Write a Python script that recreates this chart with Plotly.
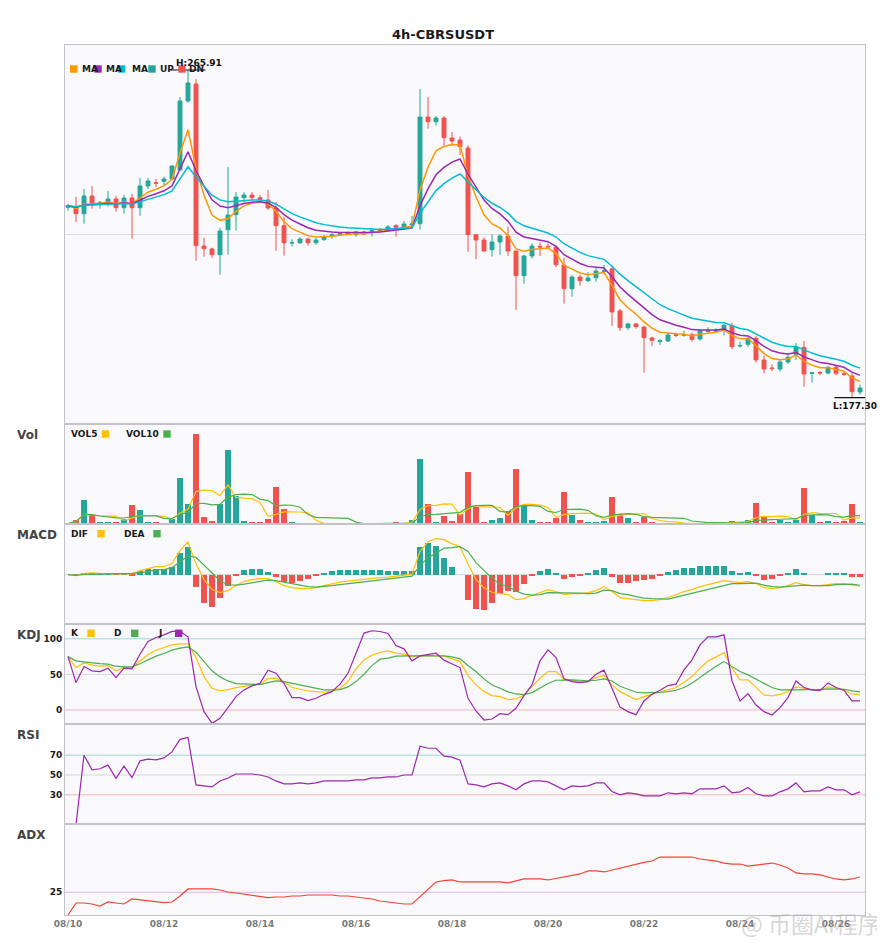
import pandas as pd
import plotly.graph_objects as go
from plotly.subplots import make_subplots

# 4h candles, 2025-08-10 00:00 onwards
times = pd.date_range("2025-08-10 00:00", periods=100, freq="4h")

opens = [
    228.79, 228.68, 227.06, 231.84, 229.60, 230.03, 231.03, 228.68, 231.30, 228.68,
    234.55, 235.44, 235.82, 236.44, 238.87, 257.53, 262.13, 218.32, 217.51, 215.97,
    222.73, 226.79, 231.38, 232.11, 231.38, 230.76, 228.60, 223.81, 219.13, 219.21,
    220.21, 219.21, 220.03, 221.11, 221.38, 221.57, 221.38, 222.11, 222.11, 222.84,
    222.73, 223.81, 223.46, 224.00, 224.35, 253.20, 251.93, 252.93, 247.52, 246.98,
    244.82, 221.38, 219.94, 217.32, 219.40, 221.03, 216.97, 210.29, 215.62, 218.24,
    218.24, 217.97, 213.18, 206.78, 209.94, 208.94, 209.75, 211.48, 212.10, 200.75,
    196.23, 197.23, 196.42, 193.44, 192.55, 192.63, 194.31, 194.17, 194.34, 193.17,
    195.26, 195.26, 195.53, 196.69, 191.28, 191.74, 193.36, 187.50, 185.33, 185.06,
    186.96, 189.04, 190.93, 183.90, 184.12, 183.96, 185.52, 183.79, 183.17, 178.84,
]
highs = [
    229.68, 231.65, 233.73, 234.55, 230.49, 233.19, 231.84, 232.19, 232.38, 236.71,
    236.71, 236.44, 237.06, 240.09, 258.61, 265.91, 263.48, 220.57, 217.86, 223.19,
    239.68, 232.92, 232.92, 232.92, 232.11, 233.46, 230.22, 226.24, 220.13, 220.67,
    220.57, 220.48, 221.30, 221.84, 222.11, 222.24, 222.46, 222.46, 223.19, 223.19,
    224.00, 224.27, 225.08, 226.43, 260.77, 258.61, 253.47, 253.47, 249.15, 247.88,
    245.55, 221.38, 220.67, 221.49, 221.49, 223.54, 216.97, 215.89, 219.05, 219.32,
    219.05, 218.51, 215.16, 210.40, 210.56, 211.29, 212.45, 213.18, 212.72, 201.29,
    197.58, 197.58, 196.69, 193.80, 193.09, 194.72, 194.88, 195.42, 194.88, 195.80,
    196.34, 196.07, 197.23, 197.58, 192.44, 193.72, 193.99, 188.66, 186.33, 187.50,
    189.12, 192.09, 192.63, 184.25, 184.52, 185.87, 185.87, 184.52, 183.90, 180.82,
]
lows = [
    227.87, 224.81, 224.35, 228.41, 228.41, 228.95, 227.60, 227.06, 220.30, 226.51,
    233.73, 234.28, 234.63, 236.17, 238.87, 257.07, 214.35, 215.43, 215.16, 210.56,
    215.97, 222.46, 230.03, 230.76, 230.30, 228.06, 217.05, 215.70, 218.13, 218.86,
    218.40, 218.67, 219.75, 220.30, 221.03, 221.30, 220.84, 221.22, 220.84, 222.11,
    222.19, 220.84, 222.73, 223.54, 222.73, 250.04, 250.85, 245.17, 245.44, 242.93,
    216.78, 214.73, 216.70, 215.43, 215.89, 215.62, 201.02, 208.13, 214.89, 215.62,
    217.59, 212.56, 202.72, 204.61, 207.59, 208.59, 208.67, 210.94, 196.69, 195.34,
    195.61, 195.96, 184.06, 191.28, 191.55, 192.36, 193.63, 193.80, 192.44, 192.72,
    194.88, 194.88, 194.17, 190.39, 190.93, 191.09, 186.77, 183.90, 184.52, 184.33,
    186.41, 187.50, 180.28, 181.36, 183.44, 183.63, 183.36, 183.17, 177.30, 178.11,
]
closes = [
    229.22, 227.06, 231.84, 229.87, 230.14, 231.03, 228.68, 231.30, 228.68, 234.55,
    235.90, 235.28, 236.44, 239.95, 257.53, 262.40, 218.40, 217.59, 215.97, 222.38,
    226.70, 231.57, 232.11, 231.38, 230.95, 228.60, 223.81, 219.21, 219.21, 220.21,
    219.21, 219.94, 220.84, 221.38, 221.65, 221.84, 222.11, 221.57, 222.46, 222.46,
    223.46, 223.38, 224.27, 224.27, 253.20, 251.93, 252.93, 247.61, 246.71, 245.17,
    221.38, 219.94, 216.97, 219.40, 221.03, 216.97, 210.29, 215.62, 218.32, 218.05,
    218.11, 213.27, 206.78, 209.94, 208.94, 209.67, 211.56, 211.64, 200.48, 196.23,
    197.23, 196.50, 193.53, 192.82, 192.71, 194.26, 194.17, 194.31, 193.09, 195.34,
    195.39, 195.53, 196.88, 191.09, 191.42, 193.26, 187.50, 185.06, 185.17, 186.96,
    188.23, 190.93, 183.71, 184.03, 183.98, 185.52, 183.90, 183.63, 178.92, 179.92,
]
ma5 = [
    229.22, 228.50, 229.61, 229.70, 229.85, 230.24, 229.72, 230.25, 229.73, 231.34,
    232.86, 233.67, 234.59, 236.38, 243.43, 249.75, 239.30, 232.06, 226.70, 225.26,
    225.74, 227.68, 229.16, 229.90, 230.25, 229.70, 227.74, 224.90, 223.00, 222.07,
    221.12, 220.73, 220.77, 220.97, 221.20, 221.41, 221.64, 221.62, 221.90, 222.09,
    222.55, 222.83, 223.31, 223.63, 233.49, 239.64, 244.07, 245.25, 245.74, 245.55,
    237.49, 231.64, 226.75, 224.30, 223.21, 221.13, 217.52, 216.89, 217.37, 217.60,
    217.77, 216.27, 213.11, 212.05, 211.01, 210.56, 210.89, 211.14, 207.59, 203.80,
    201.61, 199.91, 197.78, 196.13, 194.99, 194.75, 194.56, 194.48, 194.02, 194.46,
    194.77, 195.02, 195.64, 194.12, 193.22, 193.23, 191.32, 189.23, 187.88, 187.57,
    187.79, 188.84, 187.13, 186.10, 185.39, 185.43, 184.92, 184.49, 182.63, 181.73,
]
ma10 = [
    229.22, 228.79, 229.40, 229.49, 229.62, 229.90, 229.66, 229.99, 229.73, 230.69,
    231.73, 232.44, 233.24, 234.58, 239.17, 243.82, 238.74, 234.51, 230.80, 229.12,
    228.64, 229.23, 229.81, 230.12, 230.29, 229.95, 228.72, 226.82, 225.30, 224.28,
    223.27, 222.60, 222.25, 222.08, 221.99, 221.96, 221.99, 221.91, 222.02, 222.11,
    222.38, 222.58, 222.92, 223.19, 229.19, 233.74, 237.58, 239.59, 241.01, 241.84,
    237.75, 234.19, 230.75, 228.48, 226.99, 224.99, 222.05, 220.76, 220.27, 219.83,
    219.49, 218.25, 215.96, 214.76, 213.60, 212.81, 212.56, 212.38, 210.00, 207.25,
    205.25, 203.50, 201.51, 199.77, 198.36, 197.54, 196.87, 196.36, 195.71, 195.64,
    195.59, 195.58, 195.84, 194.89, 194.20, 194.01, 192.71, 191.18, 189.98, 189.38,
    189.15, 189.51, 188.35, 187.49, 186.79, 186.54, 186.01, 185.53, 184.21, 183.35,
]
ma20 = [
    229.22, 228.94, 229.32, 229.39, 229.49, 229.69, 229.56, 229.79, 229.65, 230.29,
    231.02, 231.57, 232.20, 233.21, 236.37, 239.75, 236.97, 234.45, 232.05, 230.79,
    230.26, 230.43, 230.65, 230.74, 230.77, 230.49, 229.62, 228.27, 227.09, 226.20,
    225.29, 224.59, 224.10, 223.75, 223.48, 223.27, 223.12, 222.92, 222.86, 222.81,
    222.89, 222.95, 223.12, 223.27, 227.16, 230.38, 233.31, 235.17, 236.67, 237.78,
    235.65, 233.61, 231.45, 229.88, 228.73, 227.20, 225.00, 223.78, 223.07, 222.42,
    221.86, 220.74, 218.93, 217.76, 216.61, 215.71, 215.17, 214.71, 212.86, 210.70,
    208.95, 207.33, 205.54, 203.89, 202.44, 201.38, 200.44, 199.64, 198.79, 198.34,
    197.96, 197.64, 197.54, 196.70, 196.01, 195.65, 194.59, 193.35, 192.29, 191.60,
    191.16, 191.13, 190.17, 189.37, 188.67, 188.26, 187.69, 187.16, 186.09, 185.29,
]
volume = [
    0.5, 4.3, 24.3, 8.7, 2.3, 1.3, 1.3, 5.3, 19.3, 14.3,
    2.3, 1.3, 0.7, 4.7, 46.3, 20.3, 90.3, 7.3, 3.3, 20.3,
    74.3, 27.7, 3.3, 1.3, 1.3, 5.3, 37.3, 15.3, 1.3, 0.7,
    0.7, 0.3, 0.2, 0.2, 0.2, 0.2, 0.2, 0.2, 0.2, 0.2,
    0.2, 1.3, 1.0, 4.3, 65.3, 20.3, 2.3, 8.3, 3.3, 10.0,
    52.3, 17.3, 2.3, 4.3, 6.3, 13.3, 55.3, 19.3, 4.3, 2.3,
    1.3, 6.3, 32.3, 9.3, 4.3, 2.3, 1.3, 3.3, 27.3, 10.3,
    6.3, 1.3, 7.3, 2.3, 0.3, 0.3, 0.7, 1.0, 0.3, 0.3,
    0.3, 0.7, 2.3, 3.3, 1.3, 4.3, 21.3, 8.3, 1.3, 4.3,
    2.3, 4.3, 36.3, 9.3, 1.3, 3.3, 2.3, 3.3, 20.3, 1.3,
]
vol5 = [
    0.5, 2.4, 9.7, 9.45, 8.02, 8.18, 7.58, 3.78, 5.9, 8.3,
    8.5, 8.5, 7.58, 4.66, 11.06, 14.66, 32.46, 33.78, 33.5, 28.3,
    39.1, 26.58, 25.78, 25.38, 21.58, 7.78, 9.7, 12.1, 12.1, 11.98,
    11.06, 3.66, 0.64, 0.42, 0.32, 0.22, 0.2, 0.2, 0.2, 0.2,
    0.2, 0.42, 0.58, 1.4, 14.42, 18.44, 18.64, 20.1, 19.9, 8.84,
    15.24, 18.24, 17.04, 17.24, 16.5, 8.7, 16.3, 19.7, 19.7, 18.9,
    16.5, 6.7, 9.3, 10.3, 10.7, 10.9, 9.9, 4.1, 7.7, 8.9,
    9.7, 9.7, 10.5, 5.5, 3.5, 2.3, 2.18, 0.92, 0.52, 0.52,
    0.52, 0.52, 0.78, 1.38, 1.58, 2.38, 6.5, 7.7, 7.3, 7.9,
    7.5, 4.1, 9.7, 11.3, 10.7, 10.9, 10.5, 3.9, 6.1, 6.1,
]
vol10 = [
    0.5, 2.4, 9.7, 9.45, 8.02, 6.9, 6.1, 6.0, 7.48, 8.16,
    8.34, 8.04, 5.68, 5.28, 9.68, 11.58, 20.48, 20.68, 19.08, 19.68,
    26.88, 29.52, 29.78, 29.44, 24.94, 23.44, 18.14, 18.94, 18.74, 16.78,
    9.42, 6.68, 6.37, 6.26, 6.15, 5.64, 1.93, 0.42, 0.31, 0.26,
    0.21, 0.31, 0.39, 0.8, 7.31, 9.32, 9.53, 10.34, 10.65, 11.63,
    16.84, 18.44, 18.57, 18.57, 12.67, 11.97, 17.27, 18.37, 18.47, 17.7,
    12.6, 11.5, 14.5, 15.0, 14.8, 13.7, 8.3, 6.7, 9.0, 9.8,
    10.3, 9.8, 7.3, 6.6, 6.2, 6.0, 5.94, 5.71, 3.01, 2.01,
    1.41, 1.35, 0.85, 0.95, 1.05, 1.45, 3.51, 4.24, 4.34, 4.74,
    4.94, 5.3, 8.7, 9.3, 9.3, 9.2, 7.3, 6.8, 8.7, 8.4,
]
dif = [
    0.00, -0.10, 0.13, 0.17, 0.13, 0.13, 0.09, 0.10, 0.07, 0.40,
    0.60, 0.80, 0.80, 1.10, 2.40, 3.27, 1.10, -0.50, -1.50, -1.80,
    -1.60, -1.10, -0.70, -0.50, -0.40, -0.40, -0.70, -1.10, -1.30, -1.40,
    -1.40, -1.30, -1.10, -0.90, -0.75, -0.65, -0.55, -0.48, -0.40, -0.30,
    -0.25, -0.15, -0.05, 0.05, 2.30, 3.30, 3.60, 3.50, 3.10, 2.80,
    1.07, -0.50, -1.33, -1.77, -1.90, -2.00, -2.50, -2.40, -2.10, -1.80,
    -1.50, -1.70, -2.00, -1.90, -1.90, -1.80, -1.60, -1.20, -1.70, -2.30,
    -2.40, -2.50, -2.60, -2.60, -2.50, -2.30, -2.00, -1.70, -1.50, -1.20,
    -1.00, -0.80, -0.60, -0.70, -0.80, -0.70, -0.90, -1.30, -1.40, -1.30,
    -1.10, -0.80, -1.00, -1.10, -1.10, -1.00, -0.90, -0.90, -1.05, -1.17,
]
dea = [
    0.00, -0.08, 0.03, 0.07, 0.08, 0.08, 0.10, 0.09, 0.12, 0.20,
    0.30, 0.50, 0.50, 0.70, 1.30, 1.87, 1.74, 0.94, 0.14, -0.62,
    -1.02, -1.05, -0.95, -0.80, -0.70, -0.55, -0.60, -0.75, -0.90, -1.10,
    -1.20, -1.25, -1.20, -1.10, -1.00, -0.90, -0.80, -0.73, -0.65, -0.55,
    -0.45, -0.35, -0.25, -0.15, 0.90, 1.70, 2.15, 2.65, 2.70, 2.80,
    2.32, 1.20, 0.42, -0.37, -0.95, -1.20, -1.65, -1.95, -2.05, -2.00,
    -1.80, -1.80, -1.80, -1.80, -1.85, -1.90, -1.85, -1.55, -1.60, -1.90,
    -2.00, -2.20, -2.35, -2.40, -2.45, -2.45, -2.25, -2.05, -1.85, -1.65,
    -1.45, -1.25, -1.05, -0.90, -0.90, -0.85, -0.85, -1.05, -1.20, -1.25,
    -1.20, -1.10, -1.05, -1.10, -1.10, -1.10, -1.00, -1.00, -0.95, -1.07,
]
macd_hist = [
    0.00, -0.04, 0.20, 0.20, 0.10, 0.10, -0.02, 0.03, -0.10, 0.40,
    0.60, 0.60, 0.60, 0.80, 2.20, 2.80, -1.27, -2.87, -3.27, -2.37,
    -1.17, -0.10, 0.50, 0.60, 0.60, 0.30, -0.20, -0.70, -0.80, -0.60,
    -0.40, -0.10, 0.20, 0.40, 0.50, 0.50, 0.50, 0.50, 0.50, 0.50,
    0.40, 0.40, 0.40, 0.40, 2.80, 3.20, 2.90, 1.70, 0.80, 0.00,
    -2.50, -3.40, -3.50, -2.80, -1.90, -1.60, -1.70, -0.90, -0.10, 0.40,
    0.60, 0.20, -0.40, -0.20, -0.10, 0.20, 0.50, 0.70, -0.20, -0.80,
    -0.80, -0.60, -0.50, -0.40, -0.10, 0.30, 0.50, 0.70, 0.70, 0.90,
    0.90, 0.90, 0.90, 0.40, 0.20, 0.30, -0.10, -0.50, -0.40, -0.10,
    0.20, 0.60, 0.10, 0.00, 0.00, 0.20, 0.20, 0.20, -0.20, -0.20,
]
k_line = [
    75, 59.6, 66, 63, 61.5, 62.4, 55, 59.6, 59.6, 69,
    78, 84, 87.8, 91.5, 93, 93, 73.7, 46.9, 30.5, 26.8,
    28.6, 31.5, 33.3, 35.2, 36.2, 44, 44.6, 39, 31.5, 29.1,
    26.8, 25.8, 24.9, 26.8, 30.5, 39.9, 57.7, 70.4, 77, 80.8,
    83.1, 79.8, 78.4, 74.6, 76.5, 76.5, 76, 75.6, 71.8, 68,
    48.4, 35.2, 25.8, 20.2, 18.8, 14.6, 15.5, 21.1, 32.9, 44.6,
    54, 54, 43.7, 41.8, 39.9, 39.9, 45.5, 48.4, 35.2, 25.8,
    20.2, 14.6, 18.8, 22, 24.9, 28.2, 31.5, 39, 46.9, 58.7,
    69, 74.6, 80.3, 58.7, 42.3, 42.3, 32.4, 21.1, 19.7, 22,
    25.8, 32.4, 30.5, 28.2, 27.7, 32.4, 30.5, 27.7, 22.5, 21.1,
]
d_line = [
    75, 69, 67.6, 66, 65, 64.3, 61.5, 60.6, 60.6, 65,
    70.4, 75.6, 79.3, 84, 86.9, 88.7, 81.2, 68, 55, 46.5,
    40.8, 37.1, 36.6, 36.2, 35.7, 38.5, 40.8, 39.9, 37.6, 35.2,
    32.9, 30.5, 28.2, 28.2, 28.6, 32.4, 39.9, 50.2, 62.4, 71.4,
    72.8, 75.6, 76, 76, 76.5, 76.5, 76, 76, 74.6, 71.8,
    62.4, 54, 43.7, 35.2, 30.5, 25.4, 22.5, 21.6, 24.4, 30.5,
    37.1, 41.8, 42.3, 42.3, 41.8, 40.8, 41.8, 43.7, 40.8, 33.3,
    29.1, 24.9, 23.9, 23.9, 24.9, 25.8, 27.7, 31.5, 37.6, 45.5,
    54, 61.5, 68, 61, 54, 49.3, 43.7, 38, 31.5, 28.2,
    27.7, 28.2, 28.6, 28.2, 28.6, 29.6, 29.6, 29.1, 26.8, 25.4,
]
j_line = [
    75, 38.5, 61, 55, 54, 58.7, 45.5, 58.7, 57.7, 78.4,
    96.2, 101.9, 105.6, 110.3, 110.3, 102.8, 32.9, -2.3, -18.8, -11.7,
    3.3, 18.8, 28.2, 33.8, 37.6, 55.9, 51.6, 37.1, 17.4, 17.4,
    13.1, 16.4, 22, 25.8, 36.2, 51.6, 79.8, 108, 111.3, 110.3,
    107.5, 90.6, 85.9, 69, 76, 77.5, 79.8, 70, 65.3, 59.6,
    16.4, -1.4, -14.1, -12.7, -5.2, -6.6, 2.3, 20.2, 35.2, 69,
    84.5, 73.7, 43.7, 39.9, 38.5, 39.9, 50.2, 55.9, 30.5, 4.2,
    -2.3, -6.6, 12.7, 22, 27.7, 34.3, 36.2, 56.3, 70.4, 91.5,
    102.8, 102.8, 105.6, 40.8, 12.7, 23, 7, -2.3, -7, 3.3,
    17.4, 40.8, 31.5, 28.2, 27.2, 38, 31.5, 27.7, 12.7, 12.7,
]
rsi = [
    0, 0, 70, 55.3, 56.3, 60, 46.7, 59, 47.3, 64.3,
    66, 65.3, 67.3, 73.3, 86, 88, 40, 39, 38, 44,
    47, 51, 51, 51, 50, 48, 44, 41, 41, 42,
    41, 42, 44, 44, 44, 44, 45, 45, 47, 47,
    48, 48, 50, 50, 79, 77, 77, 69, 68, 65,
    41, 40, 38, 41, 42, 39, 35, 41, 44, 44,
    43, 39, 35, 39, 38.3, 39, 42, 42, 33.3, 30,
    32, 31, 29, 29, 29, 32, 31, 32, 31, 36,
    36, 36, 39, 32, 33, 37.3, 31, 29, 29, 33,
    36, 42, 33, 34, 34, 38, 35, 35, 30, 33,
]
adx = [
    0, 13.2, 13.2, 12.1, 9.9, 14.3, 13.2, 12.1, 17.6, 16.8,
    15.8, 14.7, 13.6, 14.3, 20.9, 28.6, 28.6, 28.6, 28.6, 27.5,
    25.3, 24.2, 23.1, 22.0, 20.9, 19.0, 19.8, 19.8, 20.9, 20.9,
    22.0, 22.0, 22.0, 22.0, 20.9, 20.9, 19.8, 18.7, 17.6, 15.4,
    14.3, 13.2, 12.1, 12.1, 20.1, 28.2, 36.3, 37.7, 38.5, 36.3,
    36.3, 36.3, 36.3, 36.3, 36.3, 35.2, 37.4, 39.6, 39.6, 39.6,
    38.5, 40.3, 41.8, 43.6, 45.1, 48.4, 48.4, 47.3, 49.5, 51.6,
    53.8, 56.0, 57.9, 59.3, 63.7, 63.7, 63.7, 63.7, 63.7, 61.5,
    60.4, 59.3, 57.1, 56.0, 56.0, 53.8, 54.9, 56.0, 57.1, 54.9,
    51.6, 46.2, 45.1, 45.1, 44.0, 41.8, 39.6, 38.5, 39.6, 41.8,
]

UP, DN = "#26a69a", "#ef5350"
ORANGE, PURPLE, CYAN = "#ff9800", "#9c27b0", "#00bcd4"
YELLOW, GREEN = "#ffc107", "#4caf50"
AXIS_LINE = "#c2c2c8"
FONT = "DejaVu Sans"

# the page puts the figure 8px in from the window corner
OFF = 8
W, H = 877, 942
ML, MR, MT, MB = 57, 20, 37, 35
PLOT_L, PLOT_B = ML + OFF, H - MB + OFF  # plot area edges in window pixels
PLOT_W, PLOT_H = W - ML - MR, H - MT - MB
BAR_W = 3 * 3600 * 1000  # ms, 3/4 of a 4h slot


def px_x(px):
    return (px - PLOT_L) / PLOT_W


def px_y(py):
    return (PLOT_B - py) / PLOT_H


fig = make_subplots(
    rows=6, cols=1, shared_xaxes=True, vertical_spacing=0,
    row_heights=[379, 100, 100, 100, 100, 91],
)

# price
fig.add_trace(go.Candlestick(
    x=times, open=opens, high=highs, low=lows, close=closes,
    increasing=dict(line=dict(color=UP, width=1), fillcolor=UP),
    decreasing=dict(line=dict(color=DN, width=1), fillcolor=DN),
    whiskerwidth=0, name="K",
), row=1, col=1)
for series, color in [(ma5, ORANGE), (ma10, PURPLE), (ma20, CYAN)]:
    fig.add_trace(go.Scatter(x=times, y=series, mode="lines",
                             line=dict(color=color, width=1.5)), row=1, col=1)

up_down = [UP if c >= o else DN for o, c in zip(opens, closes)]

# volume
fig.add_trace(go.Bar(x=times, y=volume, width=BAR_W, marker=dict(color=up_down, line=dict(width=0))),
              row=2, col=1)
fig.add_trace(go.Scatter(x=times, y=vol5, mode="lines", line=dict(color=YELLOW, width=1.2)), row=2, col=1)
fig.add_trace(go.Scatter(x=times, y=vol10, mode="lines", line=dict(color=GREEN, width=1.2)), row=2, col=1)

# macd
hist_colors = [UP if v >= 0 else DN for v in macd_hist]
fig.add_trace(go.Bar(x=times, y=macd_hist, width=BAR_W, marker=dict(color=hist_colors, line=dict(width=0))),
              row=3, col=1)
fig.add_trace(go.Scatter(x=times, y=dif, mode="lines", line=dict(color=YELLOW, width=1.2)), row=3, col=1)
fig.add_trace(go.Scatter(x=times, y=dea, mode="lines", line=dict(color=GREEN, width=1.2)), row=3, col=1)

# kdj
fig.add_trace(go.Scatter(x=times, y=k_line, mode="lines", line=dict(color=YELLOW, width=1.2)), row=4, col=1)
fig.add_trace(go.Scatter(x=times, y=d_line, mode="lines", line=dict(color=GREEN, width=1.2)), row=4, col=1)
fig.add_trace(go.Scatter(x=times, y=j_line, mode="lines", line=dict(color=PURPLE, width=1.2)), row=4, col=1)

# rsi / adx
fig.add_trace(go.Scatter(x=times, y=rsi, mode="lines", line=dict(color=PURPLE, width=1.2)), row=5, col=1)
fig.add_trace(go.Scatter(x=times, y=adx, mode="lines", line=dict(color="#f44336", width=1.2)), row=6, col=1)

# reference lines
ref_lines = [
    (3, 0, "#d6d6da"),
    (4, 100, "#9fd6d2"), (4, 50, "#d6d6da"), (4, 0, "#f6b4b4"),
    (5, 70, "#9fd6d2"), (5, 50, "#d6d6da"), (5, 30, "#f6b4b4"),
    (6, 25, "#dcb4ea"),
]
for row, val, color in ref_lines:
    fig.add_shape(type="line", xref=f"x{row} domain", yref=f"y{row}", x0=0, x1=1, y0=val, y1=val,
                  line=dict(color=color, width=1), layer="below")

# high / low markers
slot = pd.Timedelta(hours=4)
hi = highs.index(max(highs))
lo = lows.index(min(lows))
for idx, val, label, anchor, xshift, yshift in [
    (hi, highs[hi], f"H:{highs[hi]:.2f}", "bottom", -14, 0),
    (lo, lows[lo], f"L:{lows[lo]:.2f}", "top", -21, -1),
]:
    fig.add_shape(type="line", xref="x", yref="y", x0=times[idx] - 2.2 * slot, x1=times[idx] + 2.2 * slot,
                  y0=val, y1=val, line=dict(color="#111111", width=1.2))
    fig.add_annotation(x=times[idx], y=val, xref="x", yref="y", text=f"<b>{label}</b>", showarrow=False,
                       xanchor="left", yanchor=anchor, xshift=xshift, yshift=yshift,
                       font=dict(size=9, color="#111111", family=FONT))

# axes
x_start = times[0] - pd.Timedelta(hours=1.5)
x_end = times[-1] + pd.Timedelta(hours=2.5)
fig.update_xaxes(range=[x_start, x_end], showline=True, mirror=True, linecolor=AXIS_LINE, linewidth=1,
                 showgrid=False, zeroline=False, showticklabels=False, ticks="",
                 rangeslider=dict(visible=False))
fig.update_xaxes(showticklabels=True, tickformat="%m/%d", dtick=2 * 86400000, tick0="2025-08-10",
                 tickfont=dict(size=9, color="#7a7a7a", family=FONT, weight="bold"), row=6, col=1)

fig.update_yaxes(showline=True, mirror=True, linecolor=AXIS_LINE, linewidth=1, zeroline=False,
                 showgrid=False, ticks="", showticklabels=False, fixedrange=True)
fig.update_yaxes(range=[170.19, 272.67], showgrid=True, gridcolor="#dcdce0", tickvals=[221.3], row=1, col=1)
fig.update_yaxes(range=[0, 100], row=2, col=1)
fig.update_yaxes(range=[-4.95, 5.07], row=3, col=1)
tick_font = dict(size=9, color="#1a1a1a", family=FONT, weight="bold")
fig.update_yaxes(range=[-19.7, 120.8], tickvals=[0, 50, 100], showticklabels=True, tickfont=tick_font,
                 row=4, col=1)
fig.update_yaxes(range=[0.5, 101.5], tickvals=[30, 50, 70], showticklabels=True, tickfont=tick_font,
                 row=5, col=1)
fig.update_yaxes(range=[0, 100], tickvals=[25], showticklabels=True, tickfont=tick_font, row=6, col=1)

# panel names
for label, py in [("Vol", 435), ("MACD", 535), ("KDJ", 635), ("RSI", 735), ("ADX", 835)]:
    fig.add_annotation(x=px_x(15), y=px_y(py), xref="paper", yref="paper", text=f"<b>{label}</b>",
                       showarrow=False, xanchor="left", yanchor="middle",
                       font=dict(size=12, color="#444444", family=FONT))


def legend_square(x0, yc, color):
    fig.add_shape(type="rect", xref="paper", yref="paper", x0=px_x(x0), x1=px_x(x0 + 7.4),
                  y0=px_y(yc + 3.7), y1=px_y(yc - 3.7), fillcolor=color, line=dict(width=0))


def legend_text(x0, yc, text):
    fig.add_annotation(x=px_x(x0), y=px_y(yc), xref="paper", yref="paper", text=f"<b>{text}</b>",
                       showarrow=False, xanchor="left", yanchor="middle",
                       font=dict(size=9, color="#1a1a1a", family=FONT))


# price legend: square then text
for sq_x, tx_x, color, text in [
    (70, 79.5, ORANGE, "MA"), (94.3, 104, PURPLE, "MA"), (118, 130, CYAN, "MA"),
    (148.3, 158, UP, "UP"), (178.3, 187, DN, "DN"),
]:
    legend_square(sq_x, 69, color)
    legend_text(tx_x, 69, text)

# sub-panel legends: text then square
for yc, items in [
    (434, [(69, "VOL5", 101.7, YELLOW), (124, "VOL10", 163.3, GREEN)]),
    (533.7, [(69, "DIF", 97.3, YELLOW), (122, "DEA", 153.3, GREEN)]),
    (633.3, [(69, "K", 87.3, YELLOW), (112, "D", 131, GREEN), (156, "J", 175, PURPLE)]),
]:
    for tx_x, text, sq_x, color in items:
        legend_text(tx_x, yc, text)
        legend_square(sq_x, yc, color)

# watermark
fig.add_annotation(x=px_x(883), y=px_y(923), xref="paper", yref="paper", text="@ 币圈AI程序",
                   showarrow=False, xanchor="right", yanchor="middle",
                   font=dict(size=23, color="rgba(165,165,165,0.45)", family="Noto Sans CJK SC"))

fig.update_layout(
    width=W, height=H,
    margin=dict(l=ML, r=MR, t=MT, b=MB),
    title=dict(text="<b>4h-CBRSUSDT</b>", x=(443 - OFF) / W, xref="container", xanchor="center",
               y=1 - (34 - OFF) / H, yanchor="middle", font=dict(size=13, color="#1a1a1a", family=FONT)),
    paper_bgcolor="white",
    plot_bgcolor="#f9f9fb",
    showlegend=False,
    bargap=0,
    font=dict(family=FONT),
    hovermode="x",
)

fig.write_html("out.html")
